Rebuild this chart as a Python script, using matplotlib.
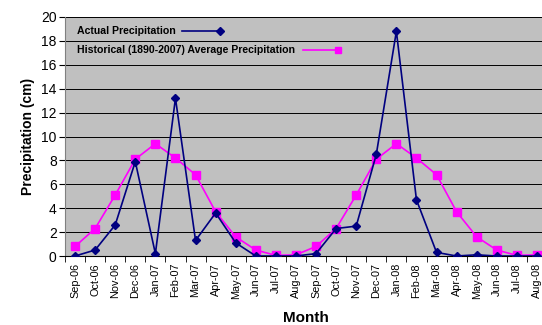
import numpy as np
import matplotlib.pyplot as plt
from matplotlib.ticker import MultipleLocator, FixedLocator

plt.rcParams['font.family'] = ['Liberation Sans', 'DejaVu Sans']

months = ["Sep-06", "Oct-06", "Nov-06", "Dec-06", "Jan-07", "Feb-07", "Mar-07", "Apr-07",
          "May-07", "Jun-07", "Jul-07", "Aug-07", "Sep-07", "Oct-07", "Nov-07", "Dec-07",
          "Jan-08", "Feb-08", "Mar-08", "Apr-08", "May-08", "Jun-08", "Jul-08", "Aug-08"]
actual = [0.0, 0.5, 2.6, 7.9, 0.2, 13.2, 1.3, 3.6, 1.1, 0.0, 0.0, 0.0,
          0.2, 2.3, 2.5, 8.5, 18.8, 4.7, 0.3, 0.0, 0.1, 0.0, 0.0, 0.0]
historical = [0.8, 2.3, 5.1, 8.1, 9.4, 8.2, 6.8, 3.7, 1.6, 0.5, 0.05, 0.1,
              0.8, 2.3, 5.1, 8.1, 9.4, 8.2, 6.8, 3.7, 1.6, 0.5, 0.05, 0.1]

fig = plt.figure(figsize=(5.42, 3.25), dpi=100)
ax = fig.add_axes([65 / 542, 1 - 256 / 325, 482 / 542, 239 / 325])
ax.set_facecolor("#C0C0C0")

x = np.arange(len(months))
ax.plot(x, historical, color="#FF00FF", lw=1.2, marker="s", ms=5.5, zorder=3)
ax.plot(x, actual, color="#000080", lw=1.2, marker="D", ms=4, zorder=4)

ax.set_xlim(-0.5, len(months) - 0.5)
ax.set_ylim(0, 20)
ax.yaxis.set_major_locator(MultipleLocator(2))
ax.grid(axis="y", color="black", lw=0.7)
ax.set_axisbelow(True)

ax.set_xticks(x)
ax.set_xticklabels(months, rotation=90, fontsize=7.8,
                   family=['Liberation Sans Narrow', 'Liberation Sans'])
ax.tick_params(axis="x", which="major", length=0, pad=5)
ax.xaxis.set_minor_locator(FixedLocator(np.arange(-0.5, len(months), 1)))
ax.tick_params(axis="x", which="minor", length=4, color="black")
ax.tick_params(axis="y", labelsize=10, length=4, color="black", pad=2)

for s in ["top", "right"]:
    ax.spines[s].set_visible(False)
ax.spines["left"].set_color("#808080")
ax.spines["bottom"].set_color("black")

ax.set_ylabel("Precipitation (cm)", fontsize=10, fontweight="bold", labelpad=4)
ax.set_xlabel("Month", fontsize=11, fontweight="bold")
ax.xaxis.set_label_coords(0.5, -0.232)

# legend sits inside the plot: text first, then line with marker at the end
legend_rows = [
    (31, "Actual Precipitation", "#000080", "D", 182, 220, 4),
    (50, "Historical (1890-2007) Average Precipitation", "#FF00FF", "s", 303, 338, 5),
]
for ypix, label, color, marker, x0, x1, ms in legend_rows:
    yf = 1 - ypix / 325
    fig.text(77 / 542, yf, label, fontsize=7.6, fontweight="bold", va="center")
    fig.add_artist(plt.Line2D([x0 / 542, x1 / 542], [yf, yf], color=color, lw=1.2))
    fig.add_artist(plt.Line2D([x1 / 542], [yf], color=color, marker=marker, ms=ms))

fig.savefig("out.png", dpi=100)
